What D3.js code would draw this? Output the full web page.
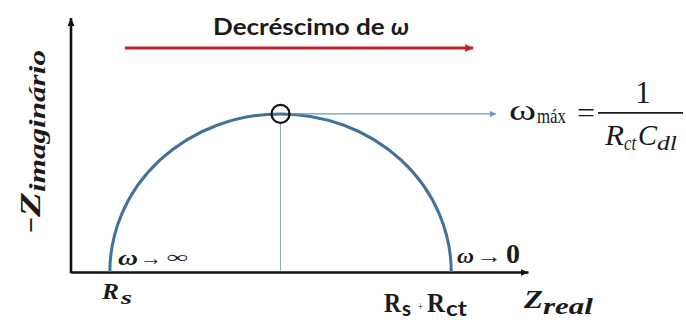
<!DOCTYPE html>
<html>
<head>
<meta charset="utf-8">
<script src="https://cdn.jsdelivr.net/npm/d3@7"></script>
<style>
  body { margin: 0; background: #fff; }
  svg { display: block; }
  .math { font-family: "Liberation Serif", "DejaVu Serif", serif; }
</style>
</head>
<body>
<svg id="chart" width="686" height="320"></svg>
<script>
// Nyquist sketch of a simple Randles cell (arbitrary resistance units)
const xDomain = [0, 100];
const yDomain = [0, 60];
const Rs = 8.5;            // solution resistance (high-frequency intercept)
const Rct = 74.7;          // charge-transfer resistance (arc diameter)
// frequency-direction arrow along the top, and the apex leader line end
const freqArrowX = [11.8, 88];
const freqArrowY = 52.9;
const apexLeaderEndX = 93;
// text content
const titleText = ["Decréscimo de ", "ω"];
const highFreqLabel = ["ω", "→", "∞"];
const lowFreqLabel = ["ω", "→", "0"];

const svg = d3.select("#chart");
const x = d3.scaleLinear(xDomain, [71, 528]);
const y = d3.scaleLinear(yDomain, [272, 18]);
const ink = "#1a1a1a";

const defs = svg.append("defs");
function arrowMarker(id, color, w, h) {
  defs.append("marker")
    .attr("id", id)
    .attr("viewBox", `0 0 ${w} ${h}`)
    .attr("refX", w).attr("refY", h / 2)
    .attr("markerWidth", w).attr("markerHeight", h)
    .attr("markerUnits", "userSpaceOnUse")
    .attr("orient", "auto")
    .append("path")
    .attr("d", `M0,0L${w},${h / 2}L0,${h}Z`)
    .attr("fill", color);
}
arrowMarker("arrBlack", "#111", 8, 7);
arrowMarker("arrRed", "#c8202a", 8, 8);
arrowMarker("arrBlue", "#5b9bd5", 6, 6);

// tspan helper: opts = {size, style, weight, family, dx, dy, len}
function span(t, str, o) {
  const s = t.append("tspan").text(str);
  if (o.size) s.attr("font-size", o.size);
  if (o.style) s.attr("font-style", o.style);
  if (o.weight) s.attr("font-weight", o.weight);
  if (o.family) s.attr("font-family", o.family);
  if (o.dy) s.attr("dy", o.dy);
  if (o.dx) s.attr("dx", o.dx);
  if (o.len) s.attr("textLength", o.len).attr("lengthAdjust", "spacingAndGlyphs");
  return s;
}

// axes: bare domain lines with arrow tips, no ticks
const xAxis = svg.append("g")
  .attr("transform", `translate(0,${y(0)})`)
  .call(d3.axisBottom(x).tickValues([]).tickSizeOuter(0));
const yAxis = svg.append("g")
  .attr("transform", `translate(${x(0)},0)`)
  .call(d3.axisLeft(y).tickValues([]).tickSizeOuter(0));
[xAxis, yAxis].forEach(g => g.select(".domain")
  .attr("stroke", "#111").attr("stroke-width", 2.6));
xAxis.select(".domain").attr("marker-end", "url(#arrBlack)");
yAxis.select(".domain")
  .attr("d", `M0,${y(0) + 1.3}V${y(yDomain[1])}`)
  .attr("marker-end", "url(#arrBlack)");

// semicircular arc from Rs to Rs + Rct
const apexX = Rs + Rct / 2;
const rx = x(Rs + Rct) - x(apexX);
const ry = y(0) - y(Rct / 2);
svg.append("path")
  .attr("d", `M${x(Rs)},${y(0)}A${rx},${ry} 0 0 1 ${x(Rs + Rct)},${y(0)}`)
  .attr("fill", "none")
  .attr("stroke", "#41719c")
  .attr("stroke-width", 3);

// drop line and leader from the arc maximum
const markerR = 9;
svg.append("line")
  .attr("x1", x(apexX)).attr("x2", x(apexX))
  .attr("y1", y(Rct / 2) + markerR).attr("y2", y(0) - 1.3)
  .attr("stroke", "#8faad0").attr("stroke-width", 1);
svg.append("line")
  .attr("x1", x(apexX) + markerR).attr("x2", x(apexLeaderEndX))
  .attr("y1", y(Rct / 2)).attr("y2", y(Rct / 2))
  .attr("stroke", "#5b9bd5").attr("stroke-width", 1.3)
  .attr("marker-end", "url(#arrBlue)");
svg.append("circle")
  .attr("cx", x(apexX)).attr("cy", y(Rct / 2)).attr("r", markerR)
  .attr("fill", "none").attr("stroke", "#111").attr("stroke-width", 2.2);

// decreasing-frequency arrow
svg.append("line")
  .attr("x1", x(freqArrowX[0])).attr("x2", x(freqArrowX[1]))
  .attr("y1", y(freqArrowY)).attr("y2", y(freqArrowY))
  .attr("stroke", "#c8202a").attr("stroke-width", 3)
  .attr("marker-end", "url(#arrRed)");

const title = svg.append("text")
  .attr("x", 213).attr("y", 35)
  .attr("font-family", "Lato, 'Open Sans', sans-serif")
  .attr("font-weight", "bold")
  .attr("font-size", 23)
  .attr("fill", ink);
span(title, titleText[0], {len: 178});
span(title, titleText[1], {style: "italic", len: 18});

// axis titles
const yTitle = svg.append("text")
  .attr("class", "math")
  .attr("transform", `translate(40,233) rotate(-90)`)
  .attr("font-weight", "bold").attr("font-style", "italic")
  .attr("fill", ink);
span(yTitle, "−", {size: 27, style: "normal", len: 16});
span(yTitle, "Z", {size: 29, len: 25});
span(yTitle, "imaginário", {size: 23, dy: 5, len: 142});

const xTitle = svg.append("text")
  .attr("class", "math")
  .attr("x", 524).attr("y", 308)
  .attr("font-weight", "bold").attr("font-style", "italic")
  .attr("fill", ink);
span(xTitle, "Z", {size: 26, len: 19});
span(xTitle, "real", {size: 23, dy: 6, len: 50});

// intercept labels
const rsLabel = svg.append("text")
  .attr("class", "math")
  .attr("x", 102).attr("y", 299)
  .attr("font-weight", "bold").attr("font-style", "italic")
  .attr("fill", ink);
span(rsLabel, "R", {size: 24, len: 17});
span(rsLabel, "s", {size: 19, dy: 5, dx: 2, len: 11});

const rsrctLabel = svg.append("text")
  .attr("class", "math")
  .attr("x", 384).attr("y", 312)
  .attr("font-weight", "bold")
  .attr("fill", ink);
span(rsrctLabel, "R", {size: 27, len: 17});
span(rsrctLabel, "s", {size: 20, dy: 4, dx: 1, family: "Lato, sans-serif", len: 9});
span(rsrctLabel, "+", {size: 12, dy: -5, dx: 7, weight: "normal", len: 5});
span(rsrctLabel, "R", {size: 27, dy: 1, dx: 4, len: 18});
span(rsrctLabel, "ct", {size: 21, dy: 4, dx: 1, family: "Lato, sans-serif", len: 21});

// limiting-frequency labels at the two intercepts
function freqLabel(parts, px, py, sizes, lens) {
  const t = svg.append("text")
    .attr("class", "math")
    .attr("x", px).attr("y", py)
    .attr("font-weight", "bold")
    .attr("fill", ink);
  span(t, parts[0], {size: sizes[0], style: "italic", len: lens[0]});
  span(t, parts[1], {size: sizes[1], dx: 2, len: lens[1]});
  span(t, parts[2], {size: sizes[2], dx: lens[3], dy: lens[4], len: lens[2]});
}
freqLabel(highFreqLabel, 118, 265, [21, 20, 17], [20, 22, 21, 5, -2]);
freqLabel(lowFreqLabel, 457, 263, [20, 20, 27], [17, 26, 14, 4, 0]);

// characteristic frequency at the arc maximum
const fbar = y(Rct / 2) - 1;
const wmax = svg.append("text")
  .attr("class", "math")
  .attr("x", 509).attr("y", 120)
  .attr("fill", ink);
span(wmax, "ω", {size: 29, len: 27});
span(wmax, "máx", {size: 21, dy: 3, dx: 1, len: 29});
svg.append("text")
  .attr("class", "math")
  .attr("x", 577).attr("y", fbar + 9)
  .attr("font-size", 28).attr("fill", ink)
  .append("tspan").attr("textLength", 18).attr("lengthAdjust", "spacingAndGlyphs").text("=");
svg.append("line")
  .attr("x1", 598).attr("x2", 683)
  .attr("y1", fbar).attr("y2", fbar)
  .attr("stroke", ink).attr("stroke-width", 1.6);
svg.append("text")
  .attr("class", "math")
  .attr("x", 643).attr("y", 103)
  .attr("text-anchor", "middle")
  .attr("font-size", 31).attr("fill", ink).text("1");
const denom = svg.append("text")
  .attr("class", "math")
  .attr("x", 605).attr("y", 145)
  .attr("font-style", "italic")
  .attr("fill", ink);
span(denom, "R", {size: 29, len: 19});
span(denom, "ct", {size: 21, dy: 5, len: 12});
span(denom, "C", {size: 29, dy: -5, dx: 2, len: 19});
span(denom, "dl", {size: 21, dy: 5, len: 20});
</script>
</body>
</html>
